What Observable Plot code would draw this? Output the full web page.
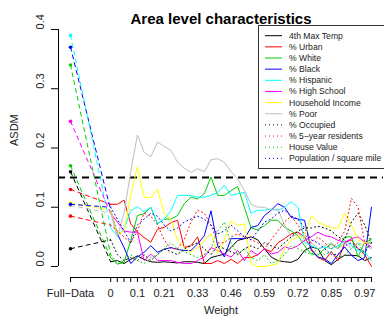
<!DOCTYPE html>
<html><head><meta charset="utf-8">
<script src="https://cdn.jsdelivr.net/npm/d3@7"></script>
<script src="https://cdn.jsdelivr.net/npm/@observablehq/plot@0.6"></script>
<style>
body{margin:0;background:#fff;width:384px;height:321px;overflow:hidden;position:relative;font-family:"Liberation Sans",Arial,Helvetica,sans-serif;}
#chart{position:absolute;left:0;top:0;}
#legend{position:absolute;left:0;top:0;}
</style></head><body><div id="chart"></div><svg id="legend" width="384" height="321"></svg>
<script>
const title = "Area level characteristics";
const xTitle = "Weight";
const yTitle = "ASDM";
const fullDataLabel = "Full\u2212Data";
const fullDataPos = -6;
const xTickIndex = [0,4,8,13,18,23,28,33,38];
const xTickLabels = ["0","0.1","0.21","0.33","0.46","0.59","0.72","0.85","0.97"];
const nWeights = 40;
const yTicks = [0,0.1,0.2,0.3,0.4];
const threshold = 0.15;

const seriesNames = ["4th Max Temp","% Urban","% White","% Black","% Hispanic","% High School","Household Income","% Poor","% Occupied","% 5\u2212year residents","House Value","Population / square mile"];
const seriesColors = ["#000000","#FF0000","#00CD00","#0000FF","#00FFFF","#FF00FF","#FFFF00","#BEBEBE","#000000","#FF0000","#00CD00","#0000FF"];
const seriesDotted = [false,false,false,false,false,false,false,false,true,true,true,true];
const fullData = [0.16,0.13,0.17,0.37,0.39,0.245,0.107,0.103,0.03,0.085,0.34,0.105];

const maxTemp   = [0.008,0.010,0.005,0.012,0.018,0.012,0.008,0.007,0.008,0.007,0.006,0.008,0.008,0.007,0.005,0.015,0.018,0.021,0.032,0.044,0.047,0.050,0.045,0.030,0.016,0.010,0.008,0.007,0.012,0.027,0.033,0.030,0.010,0.003,0.012,0.019,0.019,0.018,0.010,0.015];
const urban     = [0.105,0.105,0.112,0.072,0.058,0.049,0.041,0.063,0.066,0.074,0.078,0.032,0.035,0.050,0.005,0.005,0.010,0.005,0.012,0.005,0.015,0.015,0.020,0.030,0.025,0.040,0.047,0.055,0.058,0.050,0.030,0.015,0.010,0.025,0.010,0.040,0.045,0.030,0.020,0.000];
const white     = [0.015,0.004,0.007,0.044,0.086,0.089,0.100,0.072,0.080,0.080,0.086,0.106,0.117,0.114,0.123,0.151,0.120,0.120,0.128,0.135,0.100,0.065,0.062,0.069,0.078,0.078,0.066,0.060,0.052,0.035,0.021,0.019,0.030,0.038,0.030,0.050,0.050,0.016,0.041,0.045];
const blackPct  = [0.095,0.055,0.032,0.005,0.016,0.024,0.035,0.024,0.029,0.032,0.029,0.027,0.027,0.038,0.052,0.094,0.035,0.016,0.047,0.047,0.047,0.066,0.069,0.086,0.095,0.106,0.100,0.083,0.080,0.078,0.027,0.016,0.013,0.005,0.020,0.033,0.019,0.010,0.015,0.100];
const hispanic  = [0.065,0.052,0.063,0.094,0.101,0.092,0.100,0.072,0.080,0.094,0.120,0.120,0.120,0.117,0.117,0.120,0.125,0.137,0.120,0.123,0.125,0.090,0.095,0.095,0.097,0.095,0.100,0.109,0.100,0.041,0.035,0.030,0.033,0.030,0.035,0.044,0.035,0.027,0.024,0.010];
const highSchool= [0.090,0.075,0.060,0.058,0.058,0.010,0.021,0.010,0.010,0.010,0.007,0.005,0.005,0.010,0.016,0.032,0.027,0.021,0.016,0.027,0.010,0.027,0.019,0.030,0.021,0.024,0.033,0.030,0.035,0.044,0.050,0.058,0.052,0.050,0.044,0.041,0.047,0.050,0.041,0.033];
const income    = [0.095,0.055,0.060,0.120,0.168,0.117,0.116,0.131,0.089,0.080,0.044,0.032,0.024,0.032,0.044,0.055,0.022,0.044,0.077,0.069,0.072,0.005,0.000,0.000,0.002,0.005,0.030,0.045,0.050,0.050,0.086,0.075,0.070,0.065,0.065,0.090,0.070,0.045,0.040,0.040];
const poor      = [0.090,0.050,0.090,0.160,0.222,0.193,0.185,0.210,0.203,0.196,0.176,0.166,0.159,0.165,0.160,0.180,0.182,0.176,0.160,0.148,0.128,0.105,0.100,0.100,0.095,0.097,0.070,0.050,0.055,0.050,0.040,0.030,0.035,0.040,0.030,0.040,0.030,0.040,0.035,0.030];
const occupied  = [0.045,0.020,0.010,0.015,0.010,0.020,0.010,0.020,0.030,0.025,0.020,0.030,0.035,0.040,0.030,0.020,0.035,0.030,0.025,0.020,0.030,0.035,0.030,0.040,0.035,0.030,0.040,0.050,0.060,0.065,0.065,0.068,0.065,0.060,0.050,0.045,0.075,0.090,0.070,0.040];
const fiveYear  = [0.070,0.060,0.050,0.040,0.060,0.090,0.085,0.070,0.045,0.030,0.030,0.045,0.075,0.095,0.090,0.070,0.040,0.040,0.050,0.055,0.050,0.045,0.040,0.030,0.045,0.060,0.075,0.085,0.070,0.055,0.040,0.050,0.040,0.030,0.040,0.060,0.115,0.100,0.040,0.030];
const houseValue= [0.020,0.005,0.010,0.020,0.010,0.005,0.015,0.020,0.030,0.040,0.030,0.025,0.020,0.015,0.020,0.030,0.060,0.075,0.040,0.020,0.030,0.015,0.010,0.020,0.005,0.010,0.020,0.035,0.030,0.025,0.020,0.030,0.020,0.025,0.015,0.020,0.030,0.040,0.020,0.050];
const popDensity= [0.100,0.080,0.060,0.040,0.070,0.080,0.090,0.085,0.070,0.060,0.065,0.075,0.080,0.085,0.080,0.070,0.055,0.060,0.070,0.060,0.050,0.045,0.060,0.075,0.080,0.090,0.095,0.085,0.080,0.065,0.045,0.040,0.030,0.020,0.020,0.035,0.040,0.030,0.025,0.040];

const seriesValues = [maxTemp,urban,white,blackPct,hispanic,highSchool,income,poor,occupied,fiveYear,houseValue,popDensity];

// scale geometry
const X0 = -7.8, X1 = 40.8;
const Y0 = -0.01857, Y1 = 0.4253;
const lastIdx = nWeights - 1;

const tickLabelMap = new Map(xTickIndex.map((d,i)=>[d,xTickLabels[i]]));
tickLabelMap.set(fullDataPos, fullDataLabel);
const xTickPositions = [fullDataPos, ...d3.range(nWeights)];

const marks = [];
seriesNames.forEach((name, s) => {
  const rows = seriesValues[s].map((v,i)=>({idx:i, value:v}));
  const conn = [{idx:fullDataPos, value:fullData[s]}, rows[0]];
  marks.push(Plot.line(conn, {x:"idx", y:"value", stroke:seriesColors[s], strokeWidth:1, strokeDasharray:"4,4"}));
  marks.push(Plot.line(rows, {x:"idx", y:"value", stroke:seriesColors[s], strokeWidth:1, strokeDasharray: seriesDotted[s] ? "1,3" : null}));
});
seriesNames.forEach((name, s) => {
  marks.push(Plot.dot([{idx:fullDataPos, value:fullData[s]}], {x:"idx", y:"value", r:1.8, fill:seriesColors[s], stroke:null}));
});

const chart = Plot.plot({
  width:384, height:321,
  marginLeft:58, marginRight:1, marginTop:14, marginBottom:44,
  x:{domain:[X0,X1]},
  y:{domain:[Y0,Y1]},
  style:{fontFamily:'"Liberation Sans",Arial,Helvetica,sans-serif', fontSize:"11px", background:"white", color:"black", overflow:"visible"},
  marks:[
    Plot.ruleY([threshold], {stroke:"black", strokeWidth:2, strokeDasharray:"7,5"}),
    ...marks,
    Plot.ruleY([Y0], {x1:fullDataPos, x2:lastIdx, stroke:"black"}),
    Plot.ruleX([X0], {y1:yTicks[0], y2:yTicks[yTicks.length-1], stroke:"black"}),
    Plot.axisX({ticks:xTickPositions, tickFormat:d=>tickLabelMap.get(d) ?? "", tickSize:5, tickPadding:7, label:null, fontSize:11, fill:"#222"}),
    Plot.axisY({ticks:yTicks, tickSize:7, tickFormat:()=>"", label:null}),
    Plot.text(yTicks, {y:d=>d, text:d=>d3.format(".1f")(d), frameAnchor:"left", dx:-18, rotate:-90, fontSize:11, fill:"#222"}),
    Plot.text([yTitle], {frameAnchor:"left", dx:-44, rotate:-90, fontSize:11, fill:"#222"}),
    Plot.text([xTitle], {frameAnchor:"bottom", dy:36, fontSize:11, fill:"#222"}),
    Plot.text([title], {frameAnchor:"top", dy:-1, fontSize:15, fontWeight:"bold", fill:"black"})
  ]
});
document.getElementById("chart").appendChild(chart);

// legend
const lg = d3.select("#legend");
lg.append("rect").attr("x",258.5).attr("y",25.5).attr("width",130).attr("height",143)
  .attr("fill","white").attr("stroke","#333").attr("stroke-width",1);
seriesNames.forEach((name,s)=>{
  const cy = 35.7 + s*11.15;
  lg.append("line").attr("x1",265).attr("x2",282).attr("y1",cy).attr("y2",cy)
    .attr("stroke",seriesColors[s]).attr("stroke-width",1)
    .attr("stroke-dasharray", seriesDotted[s] ? "1,3" : null);
  lg.append("text").attr("x",289).attr("y",cy).attr("dy","0.35em")
    .attr("font-size",8.6).attr("fill","#222").attr("font-family",'"Liberation Sans",Arial,Helvetica,sans-serif')
    .text(name);
});
</script></body></html>
